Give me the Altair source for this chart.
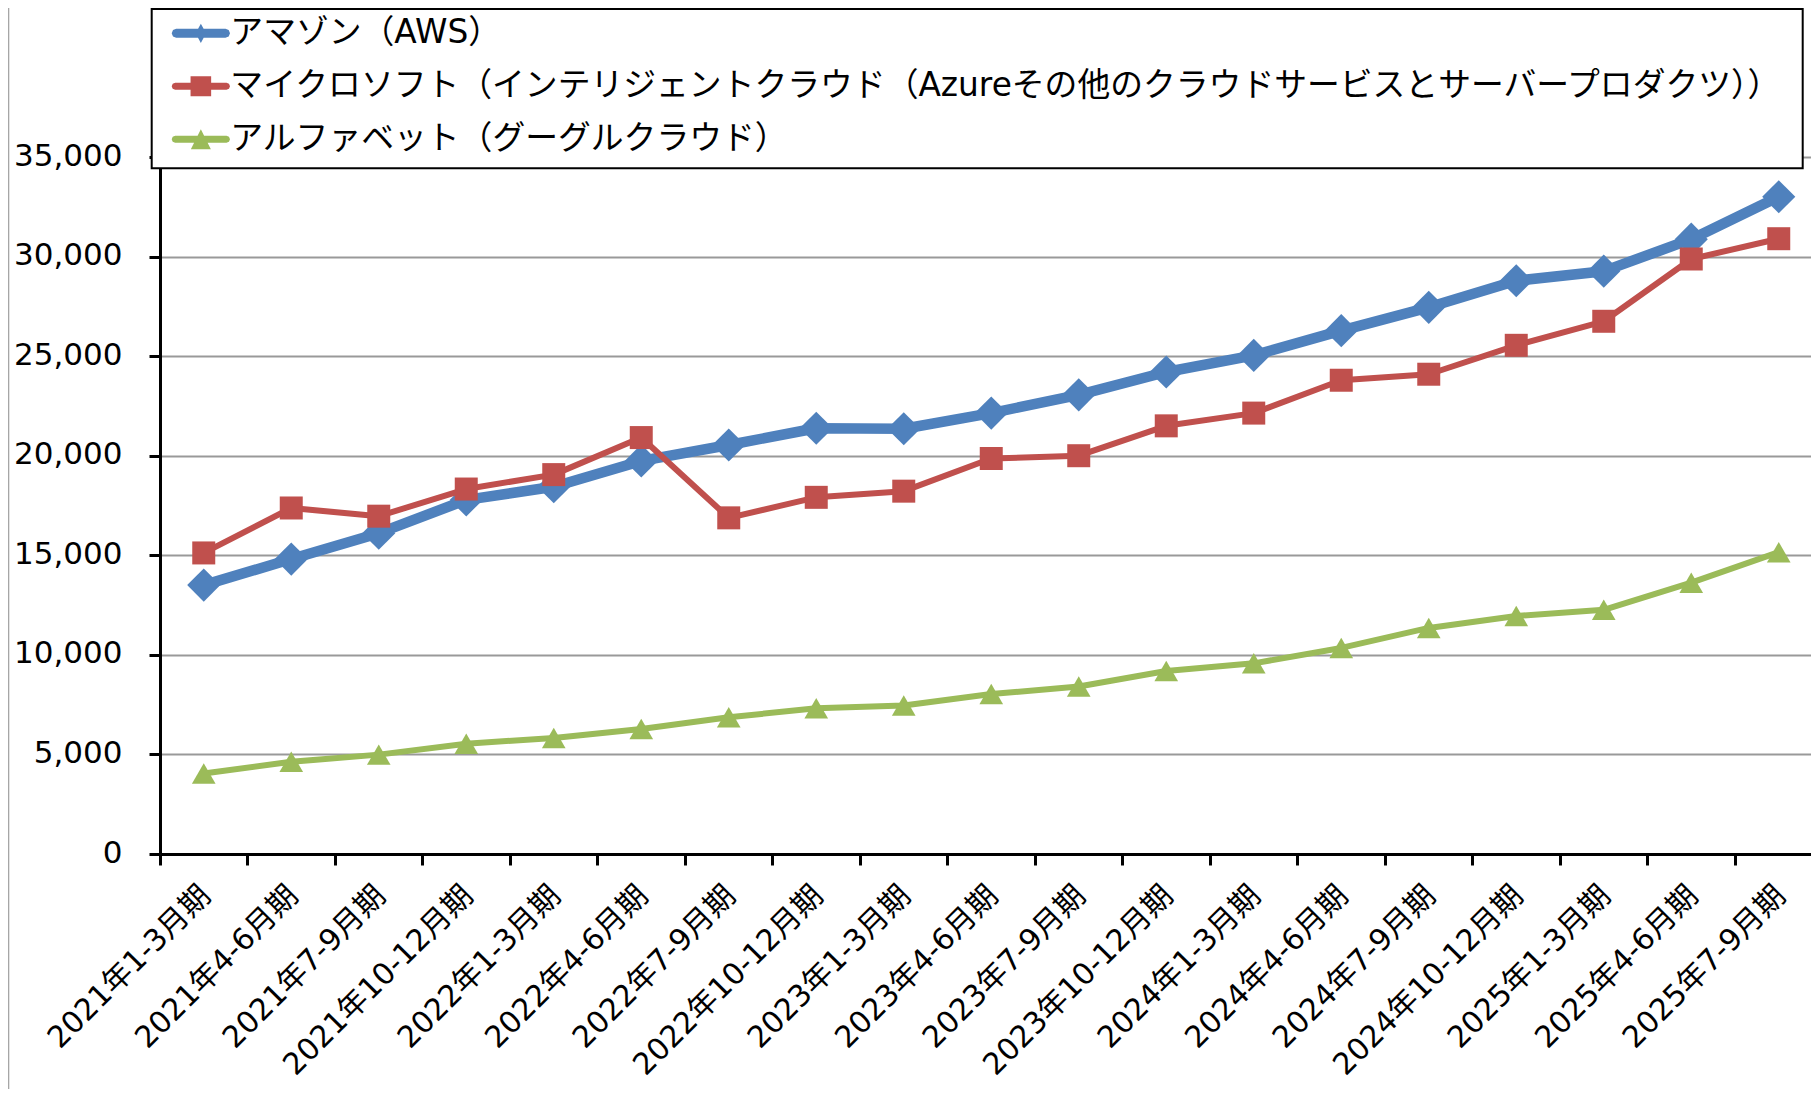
import altair as alt
import pandas as pd

quarters = [
    "2021年1-3月期", "2021年4-6月期", "2021年7-9月期", "2021年10-12月期",
    "2022年1-3月期", "2022年4-6月期", "2022年7-9月期", "2022年10-12月期",
    "2023年1-3月期", "2023年4-6月期", "2023年7-9月期", "2023年10-12月期",
    "2024年1-3月期", "2024年4-6月期", "2024年7-9月期", "2024年10-12月期",
    "2025年1-3月期", "2025年4-6月期", "2025年7-9月期",
]
series_names = [
    "アマゾン（AWS）",
    "マイクロソフト（インテリジェントクラウド（Azureその他のクラウドサービスとサーバープロダクツ））",
    "アルファベット（グーグルクラウド）",
]
amazon = [13503, 14809, 16110, 17780, 18441, 19739, 20538, 21378, 21354, 22140,
          23059, 24204, 25037, 26281, 27452, 28786, 29267, 30873, 33006]
microsoft = [15118, 17375, 16964, 18327, 19051, 20911, 16880, 17910, 18220, 19860,
             20000, 21500, 22140, 23790, 24092, 25544, 26751, 29878, 30897]
google = [4047, 4628, 4990, 5541, 5821, 6276, 6868, 7315, 7454, 8031,
          8411, 9192, 9574, 10347, 11353, 11955, 12260, 13624, 15157]
colors = ["#4F81BD", "#C0504D", "#9BBB59"]
y_ticks = [0, 5000, 10000, 15000, 20000, 25000, 30000, 35000]

rows = []
for name, vals in zip(series_names, [amazon, microsoft, google]):
    for i, (q, v) in enumerate(zip(quarters, vals)):
        rows.append({"quarter": q, "series": name, "value": v, "idx": i})
df = pd.DataFrame(rows)

FONT = "DejaVu Sans, Noto Sans CJK JP"

x_enc = alt.X(
    "quarter:N",
    scale=alt.Scale(type="band", domain=quarters, range=[0, 1662.5],
                    paddingInner=0, paddingOuter=0),
    axis=alt.Axis(title=None, bandPosition=0, labelAngle=-45, labelAlign="right",
                  labelBaseline="alphabetic", labelFont=FONT, labelFontSize=30,
                  labelColor="black", labelPadding=32, labelOffset=8.5,
                  labelLimit=500, labelOverlap=False, tickSize=11, tickWidth=3,
                  tickColor="black", domainColor="black", domainWidth=3, grid=False),
)
y_enc = alt.Y(
    "value:Q",
    scale=alt.Scale(domain=[0, 35000], nice=False),
    axis=alt.Axis(title=None, values=y_ticks, format=",d", labelFont="DejaVu Sans",
                  labelFontSize=31, labelColor="black", labelPadding=27, labelOffset=-1,
                  tickSize=11, tickWidth=3, tickColor="black", domainColor="black",
                  domainWidth=3, grid=True, gridColor="#999999", gridWidth=2),
)

line_widths = [10.5, 6, 6]
marker_shapes = ["diamond", "square", "triangle-up"]
marker_sizes = [1100, 529, 560]

legend_paths = [
    "M-0.846,-0.154L0.846,-0.154L0.955,-0.109L1,0L0.955,0.109L0.846,0.154L-0.846,0.154L-0.955,0.109L-1,0L-0.955,-0.109Z"
    "M0,-0.33L0.18,0L0,0.33L-0.18,0Z",
    "M-0.88,-0.12L0.88,-0.12L0.965,-0.085L1,0L0.965,0.085L0.88,0.12L-0.88,0.12L-0.965,0.085L-1,0L-0.965,-0.085Z"
    "M-0.353,-0.343L0.353,-0.343L0.353,0.343L-0.353,0.343Z",
    "M-0.88,-0.12L0.88,-0.12L0.965,-0.085L1,0L0.965,0.085L0.88,0.12L-0.88,0.12L-0.965,0.085L-1,0L-0.965,-0.085Z"
    "M0,-0.343L0.343,0.343L-0.343,0.343Z",
]

legend_spec = alt.Legend(
    title=None, orient="none", legendX=11.35, legendY=-153.2, direction="vertical",
    symbolSize=3400, symbolStrokeWidth=0, symbolOffset=0, labelOffset=0,
    labelFont=FONT, labelFontSize=32.8, labelColor="black", labelLimit=3000,
    rowPadding=6, padding=0, labelBaseline="middle", zindex=2,
)

one = alt.Data(values=[{"k": 1}])

border = alt.Chart(one).mark_rule(color="#a6a6a6", strokeWidth=2).encode(
    x=alt.value(-151.7), y=alt.value(-149), y2=alt.value(932)
)
frame = alt.Chart(one).mark_rect(fill="white", stroke="black", strokeWidth=2).encode(
    x=alt.value(-8.3), x2=alt.value(1642.7), y=alt.value(-148), y2=alt.value(11.3)
)

layers = [border]
for name, col, w, shp, sz in zip(series_names, colors, line_widths, marker_shapes, marker_sizes):
    base = alt.Chart(df).transform_filter(alt.datum.series == name)
    line = base.mark_line(color=col, strokeWidth=w, strokeJoin="round", strokeCap="round").encode(
        x=x_enc, y=y_enc, order=alt.Order("idx:Q"),
    )
    pts = base.mark_point(filled=True, color=col, shape=shp, size=sz, opacity=1,
                          strokeWidth=0).encode(x=x_enc, y=y_enc)
    layers += [line, pts]

layers.append(frame)

legend_layer = alt.Chart(df).transform_filter("false").mark_point(
    filled=True, opacity=1, strokeWidth=0
).encode(
    color=alt.Color("series:N", scale=alt.Scale(domain=series_names, range=colors),
                    legend=legend_spec),
    shape=alt.Shape("series:N", scale=alt.Scale(domain=series_names, range=legend_paths),
                    legend=legend_spec),
)
layers.append(legend_layer)

chart = alt.layer(*layers).properties(
    width=1651, height=697,
    padding={"left": 152, "top": 149, "right": 0, "bottom": 235},
    autosize=alt.AutoSizeParams(type="none"),
    background="white",
).configure_view(stroke=None)

chart.save("out.html", embed_options={"renderer": "svg", "actions": False})
